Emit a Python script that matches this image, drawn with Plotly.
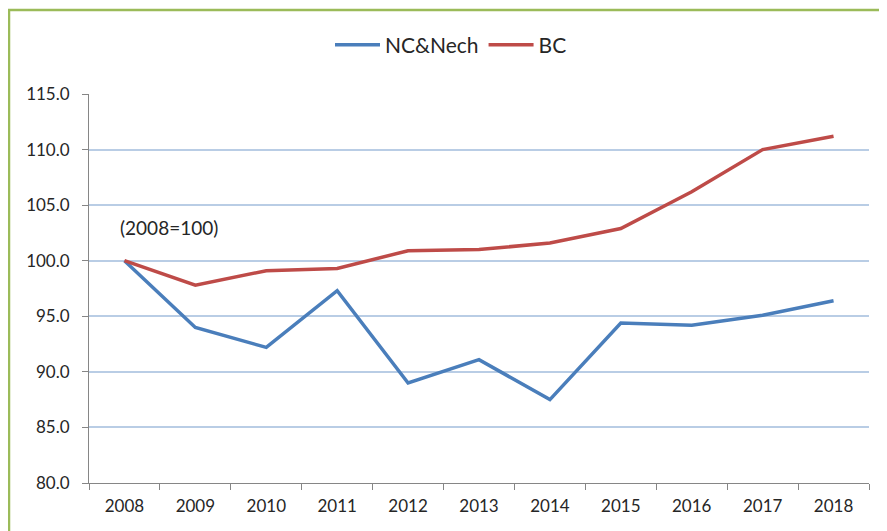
import plotly.graph_objects as go

years = ["2008", "2009", "2010", "2011", "2012", "2013", "2014", "2015", "2016", "2017", "2018"]
nc_nech = [100.0, 94.0, 92.2, 97.3, 89.0, 91.1, 87.5, 94.4, 94.2, 95.1, 96.4]
bc = [100.0, 97.8, 99.1, 99.3, 100.9, 101.0, 101.6, 102.9, 106.2, 110.0, 111.2]
y_ticks = [80, 85, 90, 95, 100, 105, 110, 115]

# page body has an 8px margin, so the figure is drawn 8px in from the corner
W, H = 879, 523
L, R, T, B = 81, 18, 86, 48
pw, ph = W - L - R, H - T - B

font = dict(family="Lato, Noto Sans, sans-serif", size=17, color="#262626")

fig = go.Figure()
fig.add_trace(go.Scatter(x=years, y=nc_nech, name="NC&Nech", mode="lines",
                         line=dict(color="#4A7EBB", width=3.5)))
fig.add_trace(go.Scatter(x=years, y=bc, name="BC", mode="lines",
                         line=dict(color="#BE4B48", width=3.5)))

fig.update_layout(
    width=W, height=H,
    margin=dict(l=L, r=R, t=T, b=B, autoexpand=False),
    paper_bgcolor="white", plot_bgcolor="white",
    font=font,
    showlegend=True,
    legend=dict(orientation="h", x=(443 - L) / pw, xanchor="center",
                y=(H - B - 37) / ph, yanchor="middle",
                itemwidth=45, font=dict(size=21), bgcolor="rgba(0,0,0,0)"),
    annotations=[dict(text="(2008=100)", x=0, xref="x", xshift=-6, xanchor="left",
                      y=103.0, yref="y", showarrow=False, font=dict(size=19))],
    shapes=[dict(type="rect", xref="paper", yref="paper",
                 x0=(1 - L) / pw, x1=1.2, y0=-0.3, y1=(H - B - 2) / ph,
                 line=dict(color="#9BBB59", width=2.5), layer="below")],
)

fig.update_xaxes(type="category", range=[-0.5, 10.5], tickson="boundaries",
                 ticks="outside", ticklen=6, tickcolor="#868686",
                 ticklabelstandoff=8,
                 showline=True, linecolor="#868686", linewidth=1,
                 showgrid=False, zeroline=False)
fig.update_yaxes(range=[80, 115], tickvals=y_ticks,
                 ticktext=[f"{v:.1f}" for v in y_ticks],
                 ticks="outside", ticklen=6, tickcolor="#868686",
                 ticklabelstandoff=9,
                 showline=True, linecolor="#868686", linewidth=1,
                 showgrid=True, gridcolor="#B9CDE5", gridwidth=1.5,
                 zeroline=False)

fig.write_html("out.html")
